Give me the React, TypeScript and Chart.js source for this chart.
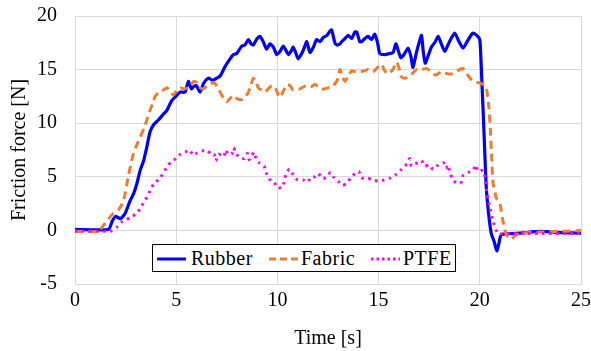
import React, { useEffect, useRef } from "react";
import { Chart, registerables } from "chart.js";

Chart.register(...registerables);

// Time [s] and friction force [N] for each sample
const rubberTime = [0, 1.65, 1.85, 2.0, 2.25, 2.48, 2.73, 2.89, 3.06, 3.22, 3.39, 3.55, 3.71, 3.9, 4.12, 4.35, 4.54, 4.78, 5.03, 5.2, 5.44, 5.6, 5.75, 5.85, 6.0, 6.18, 6.35, 6.59, 6.8, 7.0, 7.17, 7.42, 7.66, 7.83, 7.99, 8.24, 8.4, 8.57, 8.7, 8.81, 9.0, 9.14, 9.3, 9.47, 9.63, 9.8, 9.97, 10.13, 10.29, 10.45, 10.54, 10.7, 10.78, 10.9, 11.03, 11.2, 11.3, 11.45, 11.61, 11.78, 11.94, 12.1, 12.27, 12.45, 12.6, 12.68, 12.84, 12.93, 13.09, 13.17, 13.34, 13.5, 13.67, 13.83, 13.92, 14.07, 14.16, 14.32, 14.48, 14.65, 14.81, 14.95, 15.06, 15.3, 15.55, 15.72, 15.85, 15.95, 16.1, 16.25, 16.46, 16.6, 16.7, 16.87, 17.0, 17.12, 17.2, 17.3, 17.45, 17.61, 17.8, 17.94, 18.1, 18.27, 18.5, 18.76, 18.95, 19.17, 19.4, 19.6, 19.66, 19.85, 20.0, 20.1, 20.2, 20.32, 20.45, 20.57, 20.7, 20.85, 21.0, 21.06, 21.5, 22.0, 23.0, 24.0, 25.0];
const rubberForce = [0.1, 0.1, 0.9, 1.3, 1.1, 1.6, 2.8, 3.4, 4.4, 5.6, 6.5, 7.8, 9.2, 9.9, 10.3, 10.8, 11.2, 12.1, 12.6, 12.9, 12.9, 13.9, 13.2, 13.4, 13.5, 12.9, 13.7, 14.2, 14.0, 14.2, 14.4, 15.3, 16.0, 16.4, 16.5, 17.2, 17.3, 17.8, 17.4, 17.3, 17.9, 18.1, 17.6, 16.9, 17.4, 17.1, 16.4, 16.7, 17.2, 16.7, 16.4, 16.8, 17.1, 16.6, 16.0, 16.5, 16.9, 17.6, 16.6, 17.1, 17.8, 17.6, 18.0, 18.2, 18.6, 18.7, 17.5, 17.3, 17.4, 17.6, 17.9, 18.2, 17.9, 18.5, 18.5, 17.6, 17.6, 17.9, 18.1, 17.8, 18.3, 17.5, 16.5, 16.4, 16.5, 16.6, 17.4, 16.9, 16.1, 16.4, 17.0, 16.2, 15.2, 16.6, 17.5, 18.2, 16.8, 15.6, 16.3, 17.1, 17.6, 18.1, 17.4, 16.7, 17.6, 18.4, 17.7, 17.0, 17.7, 18.3, 18.4, 18.2, 17.8, 14.0, 9.5, 4.0, 1.3, -0.3, -1.0, -1.9, -0.7, -0.4, -0.3, -0.25, -0.1, -0.2, -0.25];

const fabricTime = [0, 1.1, 1.3, 1.58, 1.9, 2.15, 2.4, 2.65, 2.89, 3.06, 3.22, 3.4, 3.55, 3.71, 3.88, 3.96, 4.2, 4.37, 4.54, 4.7, 4.86, 5.03, 5.2, 5.4, 5.69, 5.85, 6.02, 6.2, 6.34, 6.55, 6.84, 6.92, 7.05, 7.17, 7.35, 7.5, 7.66, 7.83, 8.0, 8.24, 8.4, 8.57, 8.7, 8.81, 8.95, 9.06, 9.22, 9.39, 9.55, 9.72, 9.9, 10.05, 10.13, 10.3, 10.46, 10.62, 10.78, 10.95, 11.12, 11.3, 11.45, 11.65, 11.86, 12.02, 12.19, 12.35, 12.51, 12.7, 12.93, 13.09, 13.2, 13.34, 13.5, 13.67, 13.85, 14.07, 14.3, 14.48, 14.73, 14.95, 15.14, 15.3, 15.47, 15.7, 15.89, 16.0, 16.13, 16.3, 16.54, 16.7, 16.87, 17.1, 17.37, 17.6, 17.8, 17.94, 18.1, 18.27, 18.43, 18.6, 18.8, 19.0, 19.17, 19.4, 19.66, 19.9, 20.08, 20.25, 20.35, 20.45, 20.52, 20.57, 20.65, 20.82, 20.98, 21.06, 21.14, 21.31, 21.45, 21.56, 21.75, 21.97, 22.5, 23.0, 24.0, 25.0];
const fabricForce = [-0.1, -0.1, 0.2, 0.9, 1.6, 1.9, 2.8, 5.2, 7.2, 8.0, 8.7, 9.5, 10.3, 11.2, 12.1, 12.5, 13.0, 13.1, 13.3, 13.0, 12.6, 13.1, 13.3, 13.2, 13.4, 13.9, 13.8, 13.3, 13.2, 13.5, 13.8, 13.7, 13.3, 12.9, 12.3, 12.0, 12.3, 12.6, 12.3, 12.2, 12.4, 12.9, 13.6, 14.2, 13.8, 13.3, 13.1, 12.9, 13.2, 13.5, 13.3, 12.6, 12.4, 13.0, 13.6, 13.5, 13.1, 13.2, 13.2, 13.4, 13.5, 13.4, 13.6, 13.4, 13.2, 13.2, 13.3, 13.4, 13.9, 15.0, 14.4, 13.9, 14.4, 14.9, 14.8, 14.8, 14.9, 15.0, 14.8, 15.2, 15.5, 14.9, 14.6, 15.0, 15.7, 15.2, 14.3, 14.2, 14.4, 14.7, 15.0, 15.0, 15.1, 14.8, 14.5, 14.6, 14.8, 14.7, 14.6, 14.6, 14.8, 15.0, 15.1, 14.5, 13.9, 13.8, 13.7, 13.5, 13.0, 11.5, 9.5, 7.5, 4.5, 3.0, 2.6, 1.8, 0.9, -0.4, -0.7, -0.8, -0.5, -0.3, -0.2, -0.15, -0.1, 0.0];

const ptfeTime = [0, 1.8, 2.07, 2.32, 2.55, 2.73, 3.06, 3.3, 3.55, 3.71, 3.88, 4.21, 4.54, 4.75, 4.98, 5.2, 5.44, 5.65, 5.85, 6.02, 6.27, 6.51, 6.72, 6.87, 6.95, 7.09, 7.25, 7.37, 7.43, 7.58, 7.74, 7.83, 7.91, 8.07, 8.37, 8.52, 8.6, 8.73, 8.86, 8.94, 9.11, 9.34, 9.44, 9.58, 9.85, 9.97, 10.24, 10.33, 10.42, 10.59, 10.78, 11.0, 11.28, 11.48, 11.69, 11.86, 12.02, 12.27, 12.51, 12.63, 12.76, 13.0, 13.22, 13.42, 13.63, 13.83, 14.02, 14.16, 14.41, 14.73, 15.01, 15.27, 15.59, 15.85, 16.08, 16.31, 16.46, 16.54, 16.62, 16.82, 17.0, 17.12, 17.28, 17.49, 17.69, 17.89, 18.06, 18.22, 18.32, 18.43, 18.51, 18.63, 18.84, 19.09, 19.17, 19.42, 19.66, 19.8, 19.91, 20.08, 20.2, 20.28, 20.35, 20.49, 20.65, 20.9, 21.3, 22.3, 25.0];
const ptfeForce = [-0.05, -0.05, 0.3, 0.8, 1.0, 1.2, 1.6, 2.3, 3.1, 3.7, 4.3, 4.9, 5.9, 6.4, 6.7, 7.1, 7.3, 7.5, 7.0, 7.2, 7.4, 7.5, 7.1, 7.1, 6.5, 7.1, 7.0, 6.9, 7.5, 7.1, 7.1, 7.7, 7.4, 6.9, 6.7, 7.2, 6.6, 7.0, 7.3, 6.7, 6.3, 6.0, 5.4, 4.8, 4.5, 4.0, 4.0, 4.5, 5.2, 5.7, 5.2, 4.7, 4.7, 4.5, 5.0, 5.0, 5.3, 4.8, 5.2, 5.4, 5.0, 4.6, 4.2, 4.4, 4.9, 5.3, 5.5, 4.9, 4.9, 4.7, 4.6, 4.7, 4.9, 5.2, 5.6, 6.0, 6.4, 6.7, 6.0, 6.2, 6.4, 6.5, 6.0, 6.1, 5.7, 6.0, 6.2, 6.3, 5.8, 6.1, 5.5, 4.9, 4.4, 4.5, 5.1, 5.4, 5.6, 6.1, 5.5, 5.6, 5.5, 4.5, 3.5, 2.2, 0.9, -0.3, -0.3, -0.3, -0.3];

const seriesNames = ["Rubber", "Fabric", "PTFE"];
const seriesColors = ["#0000FF", "#ED7D31", "#FF00FF"];
const xLabel = "Time [s]";
const yLabel = "Friction force [N]";

const FONT = "'Liberation Serif', 'Times New Roman', serif";

function pts(t: number[], v: number[]) {
  return t.map((x, i) => ({ x, y: v[i] }));
}

export default function App() {
  const ref = useRef<HTMLCanvasElement>(null);

  useEffect(() => {
    if (!ref.current) return;
    const tickFont = { family: FONT, size: 20 };
    const chart = new Chart(ref.current, {
      type: "line",
      data: {
        datasets: [
          {
            label: seriesNames[0],
            data: pts(rubberTime, rubberForce),
            borderColor: seriesColors[0],
            backgroundColor: seriesColors[0],
            borderWidth: 3.2,
            pointRadius: 0,
            tension: 0.2,
            order: 3,
          },
          {
            label: seriesNames[1],
            data: pts(fabricTime, fabricForce),
            borderColor: seriesColors[1],
            backgroundColor: seriesColors[1],
            borderWidth: 3,
            borderDash: [8, 5],
            pointRadius: 0,
            tension: 0.2,
            order: 2,
          },
          {
            label: seriesNames[2],
            data: pts(ptfeTime, ptfeForce),
            borderColor: seriesColors[2],
            backgroundColor: seriesColors[2],
            borderWidth: 3,
            borderDash: [2.5, 4.5],
            pointRadius: 0,
            tension: 0.2,
            order: 1,
          },
        ],
      },
      options: {
        animation: false,
        responsive: false,
        events: [],
        layout: { padding: { top: 16, right: 10, left: 0, bottom: 0 } },
        plugins: { legend: { display: false }, tooltip: { enabled: false } },
        scales: {
          x: {
            type: "linear",
            min: 0,
            max: 25,
            ticks: { stepSize: 5, padding: 5, color: "#000", font: tickFont },
            grid: { color: "#d9d9d9", drawTicks: false },
            border: { color: "#d9d9d9" },
            title: {
              display: true,
              text: xLabel,
              color: "#000",
              font: tickFont,
              padding: { top: 0, bottom: 0 },
            },
            afterFit: (s: any) => {
              s.height = 67;
              s.paddingLeft = 0;
              s.paddingRight = 0;
            },
          },
          y: {
            type: "linear",
            min: -5,
            max: 20,
            ticks: { stepSize: 5, padding: 18, color: "#000", font: tickFont },
            grid: { color: "#d9d9d9", drawTicks: false },
            border: { color: "#d9d9d9" },
            title: {
              display: true,
              text: yLabel,
              color: "#000",
              font: tickFont,
              padding: { top: 8, bottom: 0 },
            },
            afterFit: (s: any) => {
              s.width = 75;
              s.paddingTop = 0;
              s.paddingBottom = 0;
            },
          },
        },
      },
    } as any);
    return () => chart.destroy();
  }, []);

  const sample = (i: number, dash: string) => (
    <svg width={29} height={6} style={{ position: "absolute", left: 0, top: 11 }}>
      <line x1={0} y1={3} x2={29} y2={3} stroke={seriesColors[i]} strokeWidth={3} strokeDasharray={dash} />
    </svg>
  );

  const items = [
    { left: 4, textLeft: 38, dash: "" },
    { left: 116, textLeft: 148, dash: "7 4" },
    { left: 218, textLeft: 250, dash: "2.5 3" },
  ];

  return (
    <div style={{ position: "fixed", left: 0, top: 0, width: 591, height: 351, background: "#fff" }}>
      <canvas ref={ref} width={591} height={351} style={{ display: "block" }} />
      <div
        style={{
          position: "absolute",
          left: 152,
          top: 244,
          width: 302,
          height: 26,
          border: "1px solid #000",
          background: "#fff",
          fontFamily: FONT,
          fontSize: 20,
          color: "#000",
        }}
      >
        {items.map((it, i) => (
          <div key={i} style={{ position: "absolute", left: it.left, top: 0, height: 26 }}>
            {sample(i, it.dash)}
            <span
              style={{
                position: "absolute",
                left: it.textLeft - it.left,
                top: 1,
                lineHeight: "24px",
                whiteSpace: "nowrap",
                letterSpacing: "0.5px",
              }}
            >
              {seriesNames[i]}
            </span>
          </div>
        ))}
      </div>
    </div>
  );
}
